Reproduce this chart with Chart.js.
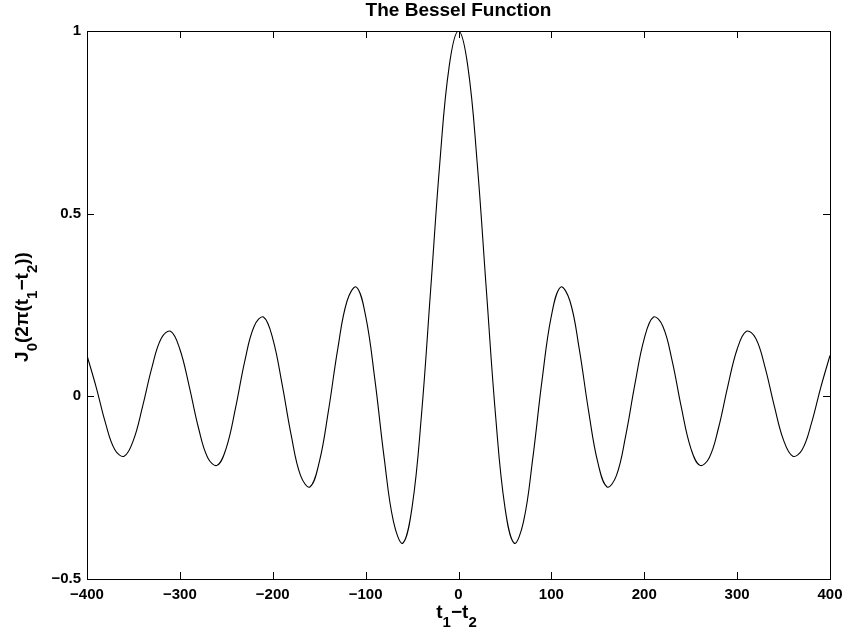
<!DOCTYPE html>
<html>
<head>
  <meta charset="UTF-8">
  <title>The Bessel Function</title>
  <script src="https://cdn.jsdelivr.net/npm/chart.js"></script>
  <style>
    body { margin: 0; background: #fff; }
    #wrap { width: 846px; height: 634px; }
  </style>
</head>
<body>
  <div id="wrap"><canvas id="besselChart"></canvas></div>

  <script>
    // t1 - t2 values, every 10 units
    const xValues = [
      -400, -390, -380, -370, -360, -350, -340, -330, -320, -310,
      -300, -290, -280, -270, -260, -250, -240, -230, -220, -210,
      -200, -190, -180, -170, -160, -150, -140, -130, -120, -110,
      -100, -90, -80, -70, -60, -50, -40, -30, -20, -10,
      0,
      10, 20, 30, 40, 50, 60, 70, 80, 90, 100,
      110, 120, 130, 140, 150, 160, 170, 180, 190, 200,
      210, 220, 230, 240, 250, 260, 270, 280, 290, 300,
      310, 320, 330, 340, 350, 360, 370, 380, 390, 400
    ];
    // J0 values
    const yValues = [
      0.112, 0.024, -0.074, -0.146, -0.164, -0.120, -0.026, 0.080, 0.159, 0.178,
      0.129, 0.028, -0.086, -0.168, -0.189, -0.141, -0.031, 0.098, 0.192, 0.217,
      0.158, 0.034, -0.108, -0.217, -0.248, -0.181, -0.039, 0.130, 0.261, 0.299,
      0.220, 0.045, -0.169, -0.343, -0.402, -0.304, -0.055, 0.291, 0.643, 0.904,
      1.000,
      0.904, 0.643, 0.291, -0.055, -0.304, -0.402, -0.343, -0.169, 0.045, 0.220,
      0.299, 0.261, 0.130, -0.039, -0.181, -0.248, -0.217, -0.108, 0.034, 0.158,
      0.217, 0.192, 0.098, -0.031, -0.141, -0.189, -0.168, -0.086, 0.028, 0.129,
      0.178, 0.159, 0.080, -0.026, -0.120, -0.164, -0.146, -0.074, 0.024, 0.112
    ];
    const xTicks = [-400, -300, -200, -100, 0, 100, 200, 300, 400];
    const yTicks = [-0.5, 0, 0.5, 1];
    const titleText = 'The Bessel Function';
    // [text, isSubscript]
    const xLabelParts = [['t', 0], ['1', 1], ['\u2212t', 0], ['2', 1]];
    const yLabelParts = [['J', 0], ['0', 1], ['(2\u03c0(t', 0], ['1', 1], ['\u2212t', 0], ['2', 1], ['))', 0]];

    const FAMILY = '"Liberation Sans", Arial, Helvetica, sans-serif';
    const MAIN = 'bold 19px ' + FAMILY;
    const SUB = 'bold 15px ' + FAMILY;

    function minus(v) {
      return v < 0 ? '\u2212' + Math.abs(v) : String(v);
    }

    function drawRich(ctx, parts, cx, cy, angle) {
      ctx.save();
      ctx.translate(cx, cy);
      ctx.rotate(angle);
      ctx.textAlign = 'left';
      ctx.textBaseline = 'alphabetic';
      const widths = parts.map(p => {
        ctx.font = p[1] ? SUB : MAIN;
        return ctx.measureText(p[0]).width;
      });
      const total = widths.reduce((s, w) => s + w, 0);
      let pos = -total / 2;
      parts.forEach((p, i) => {
        ctx.font = p[1] ? SUB : MAIN;
        ctx.fillText(p[0], pos, p[1] ? 9 : 0);
        pos += widths[i];
      });
      ctx.restore();
    }

    // box, inward ticks, title and axis labels
    const framePlugin = {
      id: 'frame',
      afterDatasetsDraw(chart) {
        const ctx = chart.ctx;
        const a = chart.chartArea;
        const xs = chart.scales.x, ys = chart.scales.y;
        ctx.save();
        ctx.strokeStyle = '#000';
        ctx.lineWidth = 1;
        ctx.strokeRect(a.left + 0.5, a.top + 0.5, a.right - a.left, a.bottom - a.top);
        ctx.beginPath();
        xTicks.forEach(v => {
          const px = Math.round(xs.getPixelForValue(v)) + 0.5;
          ctx.moveTo(px, a.bottom); ctx.lineTo(px, a.bottom - 7);
          ctx.moveTo(px, a.top); ctx.lineTo(px, a.top + 7);
        });
        yTicks.forEach(v => {
          const py = Math.round(ys.getPixelForValue(v)) + 0.5;
          ctx.moveTo(a.left, py); ctx.lineTo(a.left + 7, py);
          ctx.moveTo(a.right, py); ctx.lineTo(a.right - 7, py);
        });
        ctx.stroke();

        ctx.fillStyle = '#000';
        ctx.font = MAIN;
        ctx.textAlign = 'center';
        ctx.textBaseline = 'alphabetic';
        ctx.fillText(titleText, (a.left + a.right) / 2, 16);

        drawRich(ctx, xLabelParts, (a.left + a.right) / 2 - 2, 618, 0);
        drawRich(ctx, yLabelParts, 28, (a.top + a.bottom) / 2 + 2, -Math.PI / 2);
        ctx.restore();
      }
    };

    new Chart(document.getElementById('besselChart'), {
      type: 'line',
      data: {
        datasets: [{
          data: xValues.map((x, i) => ({ x: x, y: yValues[i] })),
          borderColor: '#000',
          borderWidth: 1.1,
          pointRadius: 0,
          tension: 0.4,
          fill: false
        }]
      },
      options: {
        responsive: true,
        maintainAspectRatio: false,
        animation: false,
        layout: { padding: { top: 31, right: 16, left: 0, bottom: 0 } },
        plugins: {
          legend: { display: false },
          tooltip: { enabled: false }
        },
        scales: {
          x: {
            type: 'linear',
            min: -400,
            max: 400,
            grid: { display: false, drawTicks: false },
            border: { display: false },
            afterFit(scale) {
              scale.height = 55;
              scale.paddingLeft = 0;
              scale.paddingRight = 0;
            },
            afterBuildTicks(scale) { scale.ticks = xTicks.map(v => ({ value: v })); },
            ticks: {
              padding: 7,
              maxRotation: 0,
              color: '#000',
              font: { family: FAMILY, size: 15, weight: 'bold' },
              callback: v => minus(v)
            }
          },
          y: {
            min: -0.5,
            max: 1,
            grid: { display: false, drawTicks: false },
            border: { display: false },
            afterFit(scale) {
              scale.width = 87;
              scale.paddingTop = 0;
              scale.paddingBottom = 0;
            },
            afterBuildTicks(scale) { scale.ticks = yTicks.map(v => ({ value: v })); },
            ticks: {
              padding: 6,
              color: '#000',
              font: { family: FAMILY, size: 15, weight: 'bold' },
              callback: v => minus(v)
            }
          }
        }
      },
      plugins: [framePlugin]
    });
  </script>
</body>
</html>
